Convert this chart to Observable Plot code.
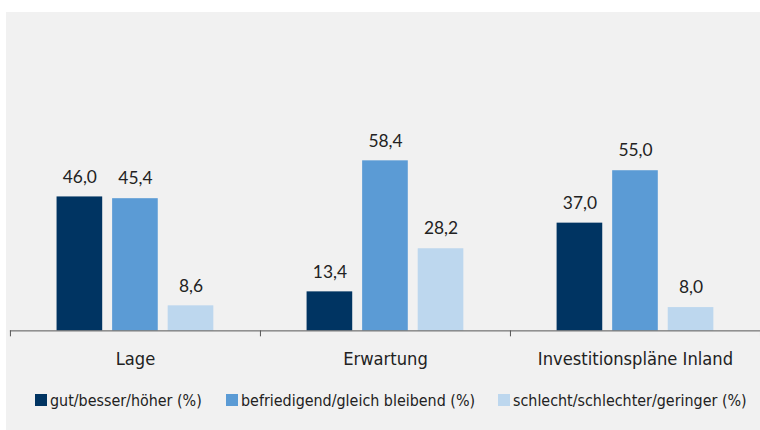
<!DOCTYPE html>
<html><head><meta charset="utf-8">
<script src="https://cdn.jsdelivr.net/npm/d3@7"></script>
<script src="https://cdn.jsdelivr.net/npm/@observablehq/plot@0.6"></script>
<style>
html,body{margin:0;padding:0;background:#fff;}
#wrap{position:relative;width:760px;height:430px;overflow:hidden;}
#panel{position:absolute;left:6px;top:12px;width:754px;height:418px;background:#f1f1f1;}
#chart{position:absolute;left:0;top:0;}
#legend{position:absolute;left:0;top:390px;width:760px;height:20px;color:#222;}
.li{position:absolute;top:0;display:flex;align-items:center;height:20px;white-space:nowrap;}
.sw{width:12px;height:12px;margin-right:3px;flex:none;}
</style></head>
<body><div id="wrap"><div id="panel"></div><div id="chart"></div><div id="legend"></div></div>
<script>
const categories = ["Lage", "Erwartung", "Investitionspläne Inland"];
const series = ["gut/besser/höher (%)", "befriedigend/gleich bleibend (%)", "schlecht/schlechter/geringer (%)"];
const gut = [46.0, 13.4, 37.0];
const befriedigend = [45.4, 58.4, 55.0];
const schlecht = [8.6, 28.2, 8.0];
const colors = ["#003462", "#5b9bd5", "#bdd7ee"];
const legendX = [35, 226, 498];

const condFont = '"DejaVu Sans Condensed", "Liberation Sans Narrow", "Open Sans", sans-serif';
const ctx = document.createElement("canvas").getContext("2d");
function fitSize(text, target) {
  ctx.font = "100px " + condFont;
  return Math.min(21, 100 * target / ctx.measureText(text).width);
}
const catSize = fitSize(categories[2], 197);
const legSize = fitSize(series[0], 152);

const values = [gut, befriedigend, schlecht];
const data = [];
categories.forEach((c, i) => series.forEach((s, j) => data.push({cat: c, ser: s, v: values[j][i]})));
const fmt = v => v.toFixed(1).replace(".", ",");

const chart = Plot.plot({
  width: 766, height: 380,
  marginLeft: 10, marginRight: 0, marginTop: 39.5, marginBottom: 47,
  style: {background: "transparent", fontFamily: "Lato, sans-serif", color: "#222"},
  fx: {domain: categories, padding: 0, label: null, axis: null},
  x: {domain: series, axis: null, paddingInner: 0.18, paddingOuter: 0.84},
  y: {domain: [0, 100], axis: null},
  color: {domain: series, range: colors},
  marks: [
    Plot.axisFx({anchor: "bottom", tickSize: 0, tickPadding: 34 - 0.71 * catSize, fontSize: catSize, fontFamily: condFont, label: null, fill: "#222"}),
    Plot.barY(data, {fx: "cat", x: "ser", y: "v", fill: "ser"}),
    Plot.text(data, {fx: "cat", x: "ser", y: "v", text: d => fmt(d.v), dy: -20, fontSize: 17.5, fill: "#222"}),
    Plot.ruleY([0], {stroke: "#555", strokeWidth: 1})
  ]
});
const svg = d3.select(chart);
const fx = chart.scale("fx");
const yb = 333;
const bounds = categories.map(c => fx.apply(c)).concat([fx.apply(categories[categories.length-1]) + fx.bandwidth]);
svg.append("g").selectAll("line").data(bounds).join("line")
  .attr("x1", d => d + 0.5).attr("x2", d => d + 0.5).attr("y1", yb).attr("y2", yb + 6)
  .attr("stroke", "#555");
document.getElementById("chart").appendChild(chart);

const lg = d3.select("#legend").style("font-family", condFont).style("font-size", legSize + "px");
series.forEach((s, i) => {
  const it = lg.append("div").attr("class", "li").style("left", legendX[i] + "px");
  it.append("div").attr("class", "sw").style("background", colors[i]);
  it.append("span").text(s);
});
</script></body></html>
